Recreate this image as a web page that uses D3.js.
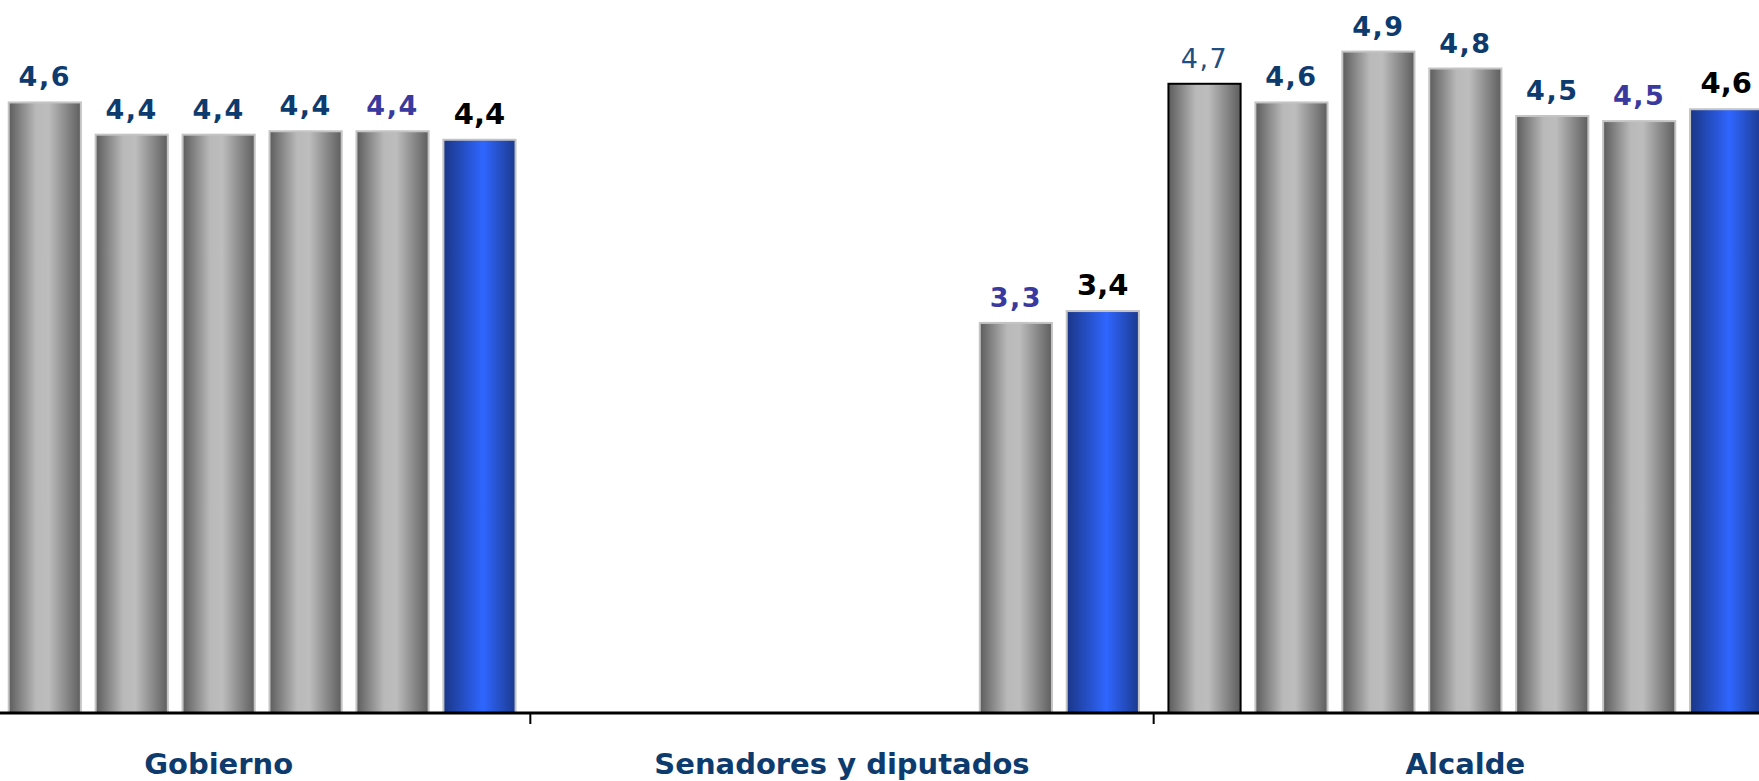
<!DOCTYPE html>
<html lang="es">
<head>
  <meta charset="utf-8">
  <title>Evaluación por institución</title>
  <script src="https://cdn.jsdelivr.net/npm/d3@7"></script>
  <style>
    html, body { margin: 0; padding: 0; background: #fff; }
    .cat-label { font-family: "DejaVu Sans", Verdana, sans-serif; font-weight: bold; font-size: 29px; fill: #0d3b6e; }
    .val { font-family: "DejaVu Sans", Verdana, sans-serif; font-size: 27px; }
  </style>
</head>
<body>
<div class="chart"></div>
<script>

// categories on the x axis
var categories = ["Gobierno", "Senadores y diputados", "Alcalde"];

// one value per series (7 series) for each category, null = no bar
var gobierno  = [null, 4.60, 4.41, 4.41, 4.43, 4.43, 4.38];
var senadores = [null, null, null, null, null, 3.30, 3.37];
var alcalde   = [4.71, 4.60, 4.90, 4.80, 4.52, 4.49, 4.56];

var values = [gobierno, senadores, alcalde];
var series = d3.range(7);

var width = 1759, height = 781;
var axisY = 713;

// outer band scale: the chart runs a bit past both edges of the picture
var x0 = d3.scaleBand()
    .domain(categories)
    .range([-93, 1777]);

// inner band scale for the 7 series inside a category
var x1 = d3.scaleBand()
    .domain(series)
    .range([0, x0.bandwidth()])
    .paddingInner(0.17)
    .paddingOuter(0.17);

// value axis starts at 1
var y = d3.scaleLinear()
    .domain([1, 5])
    .range([axisY, axisY - 4 * 169.6]);

var svg = d3.select(".chart").append("svg")
    .attr("width", width)
    .attr("height", height);

var defs = svg.append("defs");

function gradient(id, stops) {
  var g = defs.append("linearGradient")
      .attr("id", id)
      .attr("x1", "0%").attr("x2", "100%")
      .attr("y1", "0%").attr("y2", "0%");
  stops.forEach(function(s) {
    g.append("stop").attr("offset", s[0]).attr("stop-color", s[1]);
  });
}

gradient("gray", [["0%", "#5c5c5c"], ["38%", "#b9b9b9"], ["55%", "#bdbdbd"], ["100%", "#5e5e5e"]]);
gradient("blue", [["0%", "#1a3686"], ["55%", "#2f66ff"], ["100%", "#1b3a8e"]]);

// label look per series
var labelColor = ["#1f4e82", "#0d3b6e", "#0d3b6e", "#0d3b6e", "#0d3b6e", "#3a3a9e", "#000000"];
var labelWeight = ["normal", "bold", "bold", "bold", "bold", "bold", "bold"];

var rows = [];
categories.forEach(function(c, ci) {
  values[ci].forEach(function(v, si) {
    if (v != null) rows.push({cat: c, s: si, v: v});
  });
});

var fmt = function(v) { return v.toFixed(1).replace(".", ","); };

// bars
svg.selectAll(".bar")
    .data(rows)
  .enter().append("rect")
    .attr("class", "bar")
    .attr("x", function(d) { return x0(d.cat) + x1(d.s); })
    .attr("y", function(d) { return y(d.v); })
    .attr("width", x1.bandwidth())
    .attr("height", function(d) { return axisY - y(d.v); })
    .attr("fill", function(d) { return d.s === 6 ? "url(#blue)" : "url(#gray)"; })
    .attr("stroke", function(d) { return d.s === 0 ? "#000" : "#c4c4c4"; })
    .attr("stroke-width", 2);

// value labels
svg.selectAll(".val")
    .data(rows)
  .enter().append("text")
    .attr("class", "val")
    .attr("x", function(d) { return x0(d.cat) + x1(d.s) + x1.bandwidth() / 2; })
    .attr("y", function(d) { return y(d.v) - 16; })
    .attr("text-anchor", "middle")
    .attr("fill", function(d) { return labelColor[d.s]; })
    .attr("font-weight", function(d) { return labelWeight[d.s]; })
    .attr("letter-spacing", function(d) { return d.s === 6 ? 0 : 1.5; })
    .style("font-size", function(d) { return d.s === 6 ? "29px" : null; })
    .text(function(d) { return fmt(d.v); });

// x axis
var axis = svg.append("g")
    .attr("transform", "translate(0," + axisY + ")");

axis.append("line")
    .attr("x1", 0).attr("x2", width)
    .attr("stroke", "#000").attr("stroke-width", 3);

axis.selectAll(".tick")
    .data(categories.slice(1))
  .enter().append("line")
    .attr("class", "tick")
    .attr("x1", function(c) { return x0(c); })
    .attr("x2", function(c) { return x0(c); })
    .attr("y1", 0).attr("y2", 11)
    .attr("stroke", "#000").attr("stroke-width", 2);

axis.selectAll(".cat-label")
    .data(categories)
  .enter().append("text")
    .attr("class", "cat-label")
    .attr("x", function(c) { return x0(c) + x0.bandwidth() / 2; })
    .attr("y", 61)
    .attr("text-anchor", "middle")
    .text(function(c) { return c; });

</script>
</body>
</html>
